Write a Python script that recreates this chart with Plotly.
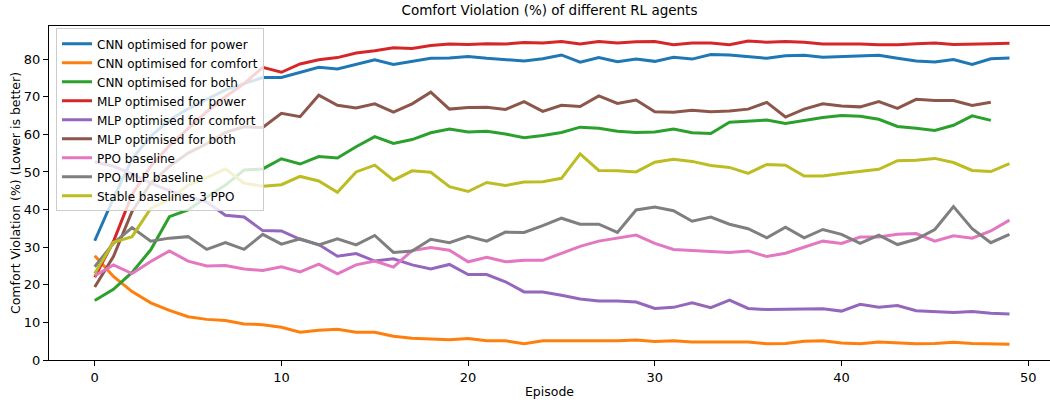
import plotly.graph_objects as go

episodes = list(range(50))

cnn_power = [31.7, 43.0, 53.5, 59.5, 63.8, 66.8, 69.3, 71.8, 73.5, 75.1,
             75.1, 76.5, 77.8, 77.4, 78.6, 79.8, 78.6, 79.5, 80.2, 80.3,
             80.7, 80.2, 79.8, 79.5, 80.1, 81.1, 79.2, 80.4, 79.3, 80.0,
             79.4, 80.5, 80.0, 81.2, 81.1, 80.7, 80.2, 80.9, 81.0, 80.5,
             80.7, 80.8, 81.0, 80.2, 79.5, 79.2, 79.9, 78.6, 80.1, 80.3]

cnn_comfort = [27.7, 22.2, 18.2, 15.2, 13.2, 11.5, 10.8, 10.5, 9.6, 9.4,
               8.7, 7.4, 7.9, 8.2, 7.4, 7.4, 6.3, 5.8, 5.6, 5.4,
               5.7, 5.1, 5.1, 4.3, 5.1, 5.1, 5.0, 5.0, 5.1, 5.3,
               4.9, 5.1, 4.8, 4.8, 4.8, 4.8, 4.3, 4.4, 5.0, 5.1,
               4.5, 4.3, 4.8, 4.5, 4.3, 4.4, 4.7, 4.4, 4.2, 4.2]

cnn_both = [15.8, 18.8, 23.3, 29.3, 38.1, 39.9, 43.3, 46.5, 50.5, 50.8,
            53.5, 52.1, 54.1, 53.7, 56.7, 59.4, 57.6, 58.6, 60.4, 61.4,
            60.6, 60.8, 60.1, 59.1, 59.7, 60.5, 61.9, 61.6, 60.8, 60.5,
            60.6, 61.4, 60.4, 60.2, 63.2, 63.5, 63.8, 62.9, 63.6, 64.5,
            65.0, 64.8, 64.0, 62.1, 61.6, 61.0, 62.4, 64.9, 63.7]

mlp_power = [22.0, 31.5, 44.0, 51.5, 57.0, 61.5, 66.0, 70.0, 73.5, 77.8,
             76.5, 78.7, 79.8, 80.4, 81.6, 82.2, 83.0, 82.8, 83.6, 84.0,
             83.9, 84.1, 84.0, 84.4, 84.3, 84.7, 84.0, 84.7, 84.3, 84.6,
             84.7, 83.8, 84.3, 84.3, 83.8, 84.8, 84.5, 84.7, 84.5, 84.0,
             84.0, 84.0, 83.8, 83.8, 84.1, 84.3, 83.9, 83.9, 84.1, 84.2]

mlp_comfort = [52.7, 51.5, 49.5, 47.0, 45.0, 43.5, 42.0, 38.5, 38.0, 34.4,
               34.3, 32.1, 30.7, 27.6, 28.3, 26.3, 26.9, 25.3, 24.2, 25.4,
               22.7, 22.7, 20.8, 18.1, 18.1, 17.2, 16.2, 15.7, 15.7, 15.4,
               13.7, 14.0, 15.2, 13.9, 15.9, 13.7, 13.4, 13.5, 13.6, 13.6,
               13.0, 14.8, 14.0, 14.5, 13.1, 12.9, 12.6, 12.9, 12.4, 12.2]

mlp_both = [19.4, 27.5, 39.5, 47.0, 51.5, 55.0, 57.5, 60.5, 62.0, 61.8,
            65.6, 64.7, 70.4, 67.7, 67.0, 68.1, 65.9, 68.1, 71.2, 66.7,
            67.1, 67.2, 66.6, 68.7, 66.1, 67.7, 67.4, 70.2, 68.2, 69.1,
            66.0, 65.9, 66.4, 66.0, 66.2, 66.7, 68.5, 64.6, 66.7, 68.1,
            67.5, 67.3, 68.7, 66.9, 69.3, 69.0, 69.0, 67.7, 68.5]

ppo_baseline = [22.4, 25.3, 23.0, 26.2, 29.0, 26.3, 25.0, 25.1, 24.2, 23.8,
                24.8, 23.4, 25.5, 22.9, 25.3, 26.3, 24.7, 29.1, 29.9, 29.2,
                26.1, 27.3, 26.1, 26.5, 26.5, 28.3, 30.2, 31.6, 32.4, 33.2,
                31.0, 29.4, 29.1, 28.8, 28.6, 29.0, 27.5, 28.4, 30.0, 31.6,
                31.0, 32.7, 32.7, 33.4, 33.6, 31.6, 33.0, 32.4, 34.3, 37.2]

ppo_mlp_baseline = [24.8, 31.0, 35.2, 31.6, 32.4, 32.8, 29.4, 31.2, 29.4, 33.4,
                    30.8, 32.2, 30.6, 32.2, 30.6, 33.1, 28.6, 29.0, 32.1, 31.2,
                    32.9, 31.6, 34.0, 33.9, 35.7, 37.7, 36.1, 36.1, 33.9, 39.9,
                    40.7, 39.7, 36.9, 38.0, 36.1, 34.9, 32.5, 35.3, 32.5, 34.7,
                    33.4, 31.0, 33.2, 30.7, 32.1, 34.7, 40.8, 34.9, 31.2, 33.4]

sb3_ppo = [23.0, 31.3, 32.8, 40.3, 42.6, 46.5, 48.5, 50.8, 47.0, 46.2,
           46.6, 48.8, 47.6, 44.6, 50.0, 51.8, 47.8, 50.3, 49.9, 46.1,
           44.8, 47.2, 46.4, 47.3, 47.4, 48.3, 54.8, 50.4, 50.3, 50.0,
           52.6, 53.4, 52.8, 51.7, 51.2, 49.6, 52.0, 51.8, 48.9, 48.9,
           49.6, 50.2, 50.7, 53.0, 53.1, 53.6, 52.5, 50.4, 50.1, 52.2]

series = [
    ("CNN optimised for power", cnn_power, "#1f77b4"),
    ("CNN optimised for comfort", cnn_comfort, "#ff7f0e"),
    ("CNN optimised for both", cnn_both, "#2ca02c"),
    ("MLP optimised for power", mlp_power, "#d62728"),
    ("MLP optimised for comfort", mlp_comfort, "#9467bd"),
    ("MLP optimised for both", mlp_both, "#8c564b"),
    ("PPO baseline", ppo_baseline, "#e377c2"),
    ("PPO MLP baseline", ppo_mlp_baseline, "#7f7f7f"),
    ("Stable baselines 3 PPO", sb3_ppo, "#bcbd22"),
]

fig = go.Figure()
for name, vals, color in series:
    fig.add_trace(go.Scatter(
        x=episodes[:len(vals)], y=vals, mode="lines", name=name,
        line=dict(color=color, width=3),
    ))

font = "DejaVu Sans, sans-serif"
fig.update_layout(
    width=1050, height=400,
    margin=dict(l=49, r=0, t=26, b=40),
    paper_bgcolor="white", plot_bgcolor="white",
    font=dict(family=font, size=12, color="black"),
    title=dict(text="Comfort Violation (%) of different RL agents",
               x=0.5, xanchor="center", xref="paper", y=0.975, yanchor="middle",
               font=dict(size=13.5, color="black")),
    showlegend=True,
    legend=dict(x=0.007, y=0.993, xanchor="left", yanchor="top",
                bgcolor="rgba(255,255,255,0.8)", bordercolor="#cccccc", borderwidth=1,
                font=dict(size=12, color="black"), tracegroupgap=0, itemwidth=30),
)
fig.update_xaxes(
    range=[-2.45, 51.17], tickvals=[0, 10, 20, 30, 40, 50],
    showline=True, linecolor="black", linewidth=1, mirror=True,
    ticks="outside", ticklen=5, tickcolor="black", showgrid=False, zeroline=False,
    tickfont=dict(size=13),
    title=dict(text="Episode", font=dict(size=12.5), standoff=3),
)
fig.update_yaxes(
    range=[0, 88.8], tickvals=[0, 10, 20, 30, 40, 50, 60, 70, 80],
    showline=True, linecolor="black", linewidth=1, mirror=True,
    ticks="outside", ticklen=5, tickcolor="black", showgrid=False, zeroline=False,
    tickfont=dict(size=13),
    title=dict(text="Comfort Violation (%) (Lower is better)", font=dict(size=12.5), standoff=0),
)

fig.write_html("out.html", config={"displayModeBar": False},
               post_script="document.body.style.margin='0';")
